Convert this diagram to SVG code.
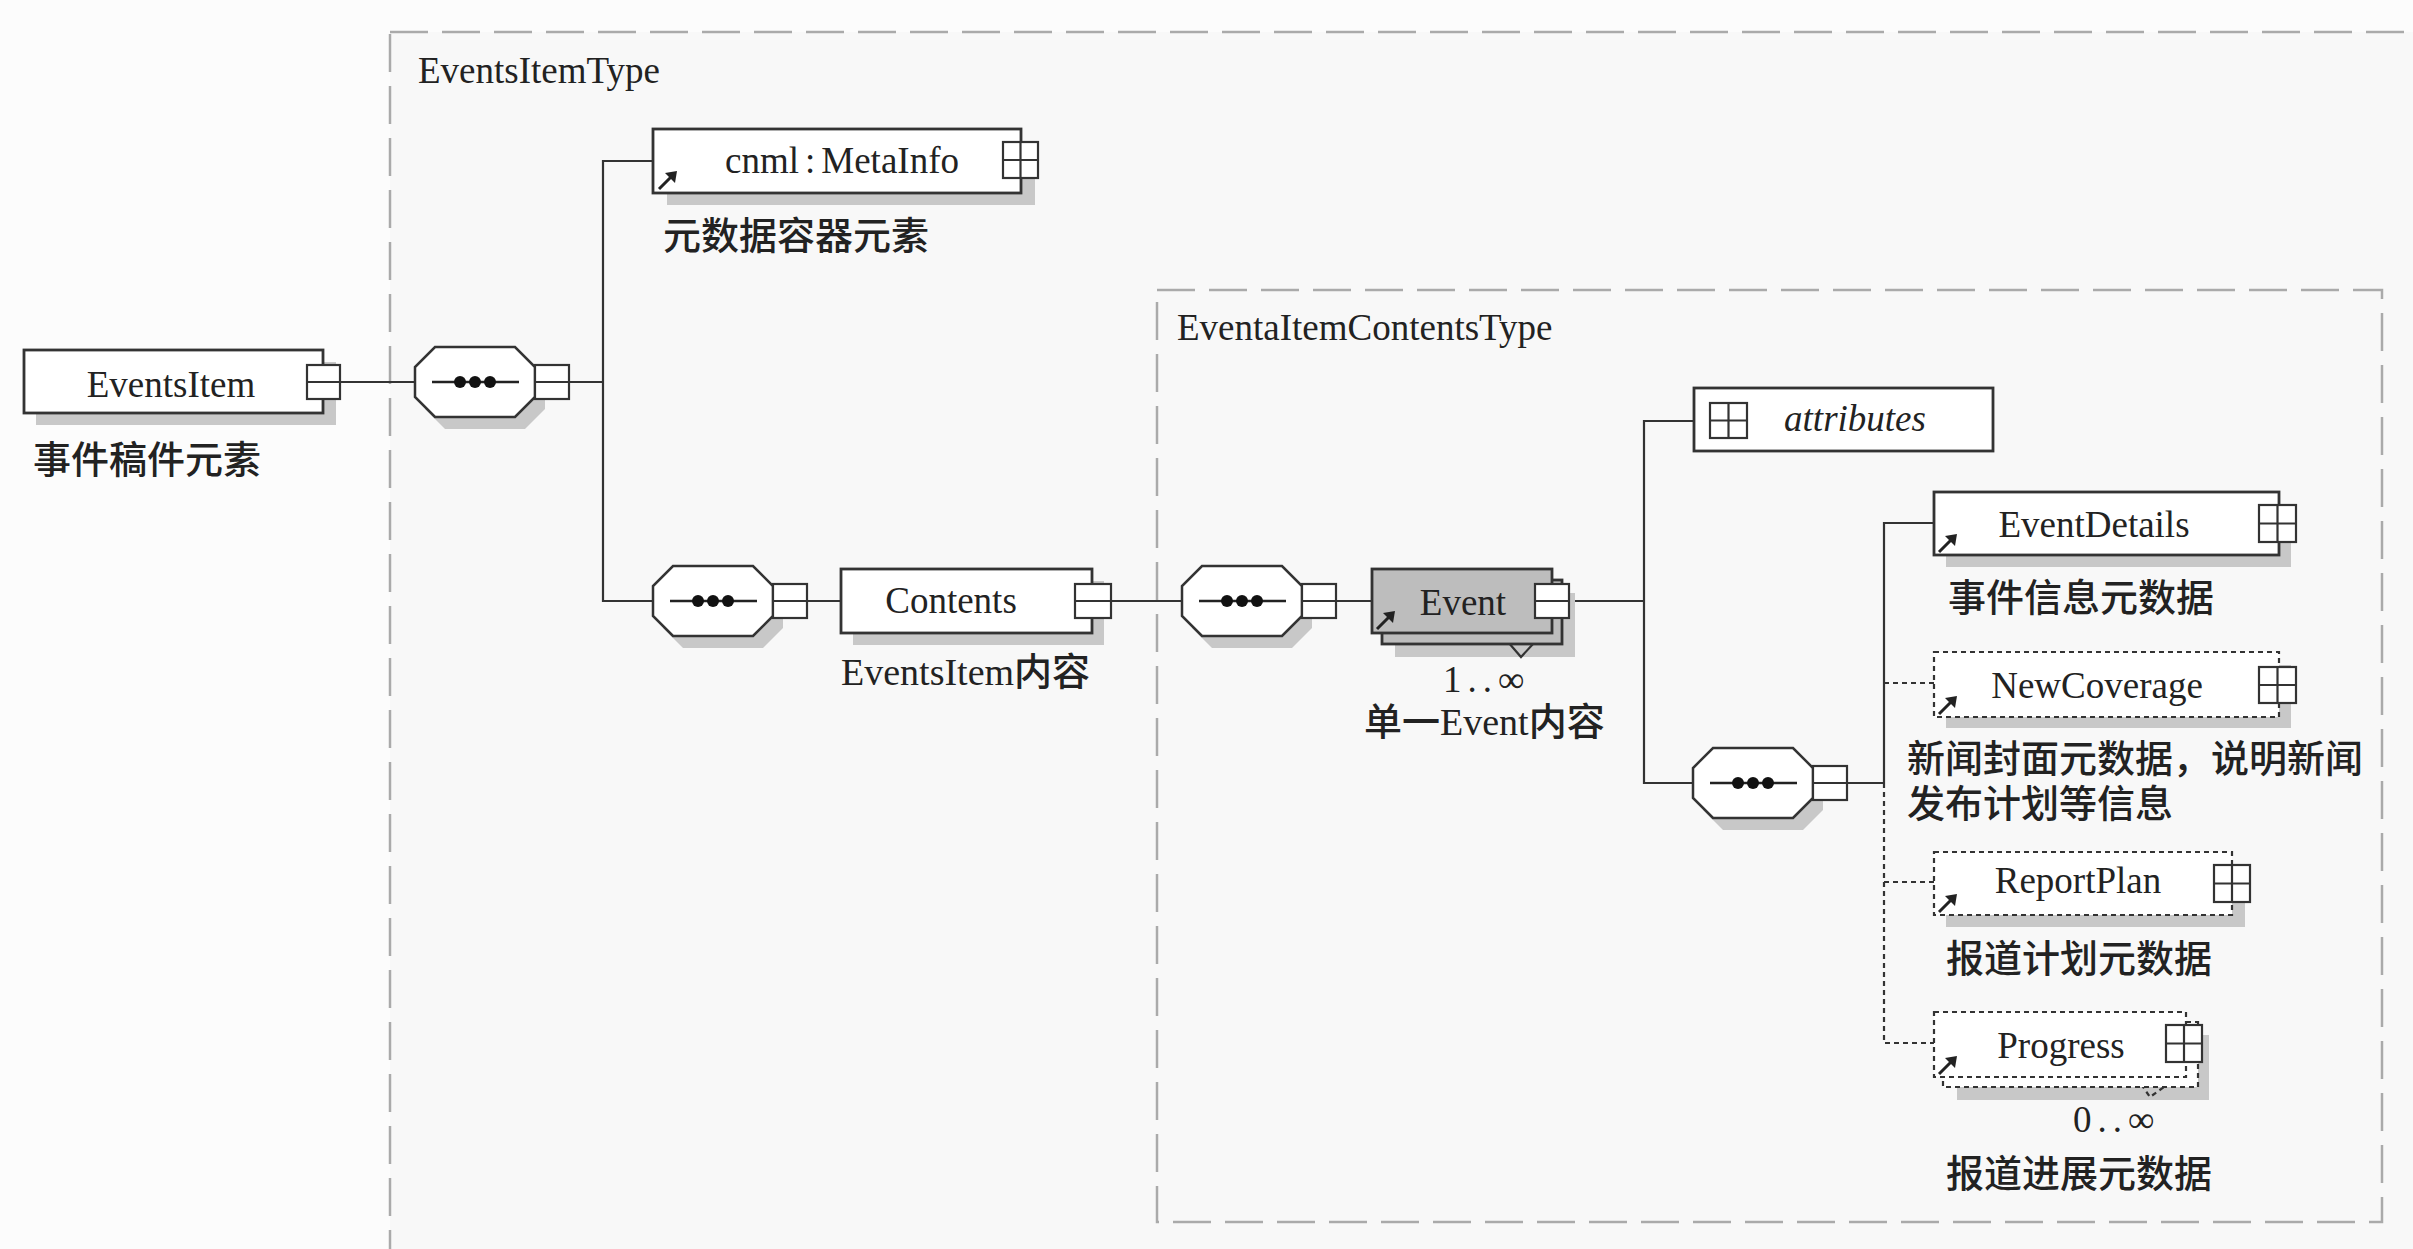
<svg xmlns="http://www.w3.org/2000/svg" xmlns:xlink="http://www.w3.org/1999/xlink" width="2413" height="1249" viewBox="0 0 2413 1249">
<style>
.box{fill:#fff;stroke:#333;stroke-width:2.8}
.opt{fill:#fff;stroke:#333;stroke-width:2.2;stroke-dasharray:5 4}
.evt{fill:#bdbdbd;stroke:#333;stroke-width:2.8}
.sh{fill:#c8c8c8}
.sq{fill:#fff;stroke:#333;stroke-width:2.2}
.ln{stroke:#333;stroke-width:2.2;fill:none}
.dl{stroke:#333;stroke-width:2.2;fill:none;stroke-dasharray:5 4}
.frame{fill:#f8f8f8;stroke:#aaa;stroke-width:2.5;stroke-dasharray:38 14}
.t{font-family:"Liberation Serif","Times New Roman",serif;font-size:37px;fill:#222}
.c{font-family:"Liberation Serif","Noto Sans CJK SC",serif;font-size:38px;fill:#222;font-weight:500}
</style>
<defs>
  <g id="seq">
    <polygon class="sh" points="30,12 110,12 130,32 130,62 110,82 30,82 10,62 10,32"/>
    <polygon points="20,0 100,0 120,20 120,50 100,70 20,70 0,50 0,20" fill="#fff" stroke="#333" stroke-width="2.5"/>
    <line x1="17" y1="35" x2="104" y2="35" stroke="#222" stroke-width="2.5"/>
    <circle cx="45" cy="35" r="6" fill="#111"/>
    <circle cx="60" cy="35" r="6" fill="#111"/>
    <circle cx="75" cy="35" r="6" fill="#111"/>
    <rect x="120" y="18" width="34" height="34" fill="#fff" stroke="#333" stroke-width="2.2"/>
    <line x1="120" y1="35" x2="154" y2="35" stroke="#333" stroke-width="2.2"/>
  </g>
  <g id="ra">
    <line x1="0" y1="0" x2="12" y2="-12" stroke="#222" stroke-width="3"/>
    <polygon points="18,-18 6,-16 16,-6" fill="#222"/>
  </g>
</defs>
<rect x="0" y="0" width="2413" height="1249" fill="#fcfcfc"/>

<g id="frames">
  <rect class="frame" x="390" y="32" width="2100" height="1300"/>
  <text class="t" x="418" y="83">EventsItemType</text>
  <rect class="frame" x="1157" y="290" width="1225" height="932"/>
  <text class="t" x="1177" y="340">EventaItemContentsType</text>
</g>

<g id="connectors">
  <line class="ln" x1="340" y1="382" x2="415" y2="382"/>
  <polyline class="ln" points="569,382 603,382"/>
  <polyline class="ln" points="653,161 603,161 603,601 653,601"/>
  <line class="ln" x1="807" y1="601" x2="841" y2="601"/>
  <line class="ln" x1="1111" y1="601" x2="1182" y2="601"/>
  <line class="ln" x1="1336" y1="601" x2="1372" y2="601"/>
  <line class="ln" x1="1569" y1="601" x2="1644" y2="601"/>
  <polyline class="ln" points="1694,421 1644,421 1644,783 1693,783"/>
  <line class="ln" x1="1847" y1="783" x2="1884" y2="783"/>
  <polyline class="ln" points="1934,523 1884,523 1884,783"/>
  <polyline class="dl" points="1884,783 1884,1043 1934,1043"/>
  <line class="dl" x1="1884" y1="683" x2="1934" y2="683"/>
  <line class="dl" x1="1884" y1="882" x2="1934" y2="882"/>
</g>

<g id="EventsItem">
  <rect class="sh" x="36" y="362" width="300" height="63"/>
  <rect class="box" x="24" y="350" width="299" height="63"/>
  <rect class="sq" x="307" y="365" width="33" height="34"/>
  <line class="ln" x1="307" y1="382" x2="340" y2="382"/>
  <text class="t" x="171" y="397" text-anchor="middle">EventsItem</text>
  <text class="c" x="33" y="473">事件稿件元素</text>
</g>

<g id="seq1"><use xlink:href="#seq" href="#seq" x="415" y="347"/></g>

<g id="MetaInfo">
  <rect class="sh" x="667" y="142" width="368" height="63"/>
  <rect class="box" x="653" y="129" width="368" height="64"/>
  <rect class="sq" x="1003" y="142" width="35" height="36"/>
  <line class="ln" x1="1003" y1="160" x2="1038" y2="160"/>
  <line class="ln" x1="1020.5" y1="142" x2="1020.5" y2="178"/>
  <use xlink:href="#ra" href="#ra" x="659" y="189"/>
  <text class="t" x="842" y="173" text-anchor="middle">cnml<tspan dx="6">:</tspan><tspan dx="6">MetaInfo</tspan></text>
  <text class="c" x="663" y="249">元数据容器元素</text>
</g>

<g id="seq2"><use xlink:href="#seq" href="#seq" x="653" y="566"/></g>

<g id="Contents">
  <rect class="sh" x="853" y="581" width="251" height="64"/>
  <rect class="box" x="841" y="569" width="251" height="64"/>
  <rect class="sq" x="1075" y="584" width="36" height="34"/>
  <line class="ln" x1="1075" y1="601" x2="1111" y2="601"/>
  <text class="t" x="951" y="613" text-anchor="middle">Contents</text>
  <text class="c" x="841" y="685">EventsItem内容</text>
</g>

<g id="seq3"><use xlink:href="#seq" href="#seq" x="1182" y="566"/></g>

<g id="Event">
  <rect class="sh" x="1395" y="593" width="180" height="64"/>
  <polyline class="ln" points="1502,635 1521,657 1533,644"/>
  <rect class="evt" x="1382" y="580" width="180" height="64"/>
  <rect class="evt" x="1372" y="569" width="180" height="64"/>
  <rect class="sq" x="1535" y="584" width="34" height="34"/>
  <line class="ln" x1="1535" y1="601" x2="1569" y2="601"/>
  <use xlink:href="#ra" href="#ra" x="1377" y="629"/>
  <text class="t" x="1463" y="615" text-anchor="middle">Event</text>
  <text class="t" x="1443" y="692" letter-spacing="6">1..∞</text>
  <text class="c" x="1364" y="735">单一Event内容</text>
</g>

<g id="attributes">
  <rect class="box" x="1694" y="388" width="299" height="63"/>
  <rect class="sq" x="1710" y="403" width="37" height="35"/>
  <line class="ln" x1="1710" y1="420.5" x2="1747" y2="420.5"/>
  <line class="ln" x1="1728.5" y1="403" x2="1728.5" y2="438"/>
  <text class="t" x="1855" y="431" text-anchor="middle" font-style="italic">attributes</text>
</g>

<g id="seq4"><use xlink:href="#seq" href="#seq" x="1693" y="748"/></g>

<g id="EventDetails">
  <rect class="sh" x="1946" y="504" width="345" height="63"/>
  <rect class="box" x="1934" y="492" width="345" height="63"/>
  <rect class="sq" x="2259" y="505" width="37" height="37"/>
  <line class="ln" x1="2259" y1="523.5" x2="2296" y2="523.5"/>
  <line class="ln" x1="2277.5" y1="505" x2="2277.5" y2="542"/>
  <use xlink:href="#ra" href="#ra" x="1939" y="552"/>
  <text class="t" x="2094" y="537" text-anchor="middle">EventDetails</text>
  <text class="c" x="1948" y="611">事件信息元数据</text>
</g>

<g id="NewCoverage">
  <rect class="sh" x="1946" y="665" width="345" height="63"/>
  <rect class="opt" x="1934" y="652" width="345" height="65"/>
  <rect class="sq" x="2259" y="667" width="37" height="36"/>
  <line class="ln" x1="2259" y1="685" x2="2296" y2="685"/>
  <line class="ln" x1="2277.5" y1="667" x2="2277.5" y2="703"/>
  <use xlink:href="#ra" href="#ra" x="1939" y="714"/>
  <text class="t" x="2097" y="698" text-anchor="middle">NewCoverage</text>
  <text class="c" x="1907" y="772">新闻封面元数据，说明新闻</text>
  <text class="c" x="1907" y="817">发布计划等信息</text>
</g>

<g id="ReportPlan">
  <rect class="sh" x="1946" y="864" width="299" height="63"/>
  <rect class="opt" x="1934" y="852" width="298" height="63"/>
  <rect class="sq" x="2214" y="865" width="36" height="37"/>
  <line class="ln" x1="2214" y1="883.5" x2="2250" y2="883.5"/>
  <line class="ln" x1="2232" y1="865" x2="2232" y2="902"/>
  <use xlink:href="#ra" href="#ra" x="1939" y="912"/>
  <text class="t" x="2078" y="893" text-anchor="middle">ReportPlan</text>
  <text class="c" x="1946" y="972">报道计划元数据</text>
</g>

<g id="Progress">
  <rect class="sh" x="1957" y="1035" width="252" height="65"/>
  <polyline class="dl" points="2136,1077 2150,1097 2164,1087"/>
  <rect class="opt" x="1943" y="1022" width="255" height="65"/>
  <rect class="opt" x="1934" y="1012" width="252" height="65"/>
  <rect class="sq" x="2166" y="1025" width="36" height="37"/>
  <line class="ln" x1="2166" y1="1043.5" x2="2202" y2="1043.5"/>
  <line class="ln" x1="2184" y1="1025" x2="2184" y2="1062"/>
  <use xlink:href="#ra" href="#ra" x="1939" y="1074"/>
  <text class="t" x="2061" y="1058" text-anchor="middle">Progress</text>
  <text class="t" x="2073" y="1132" letter-spacing="6">0..∞</text>
  <text class="c" x="1946" y="1187">报道进展元数据</text>
</g>
</svg>
